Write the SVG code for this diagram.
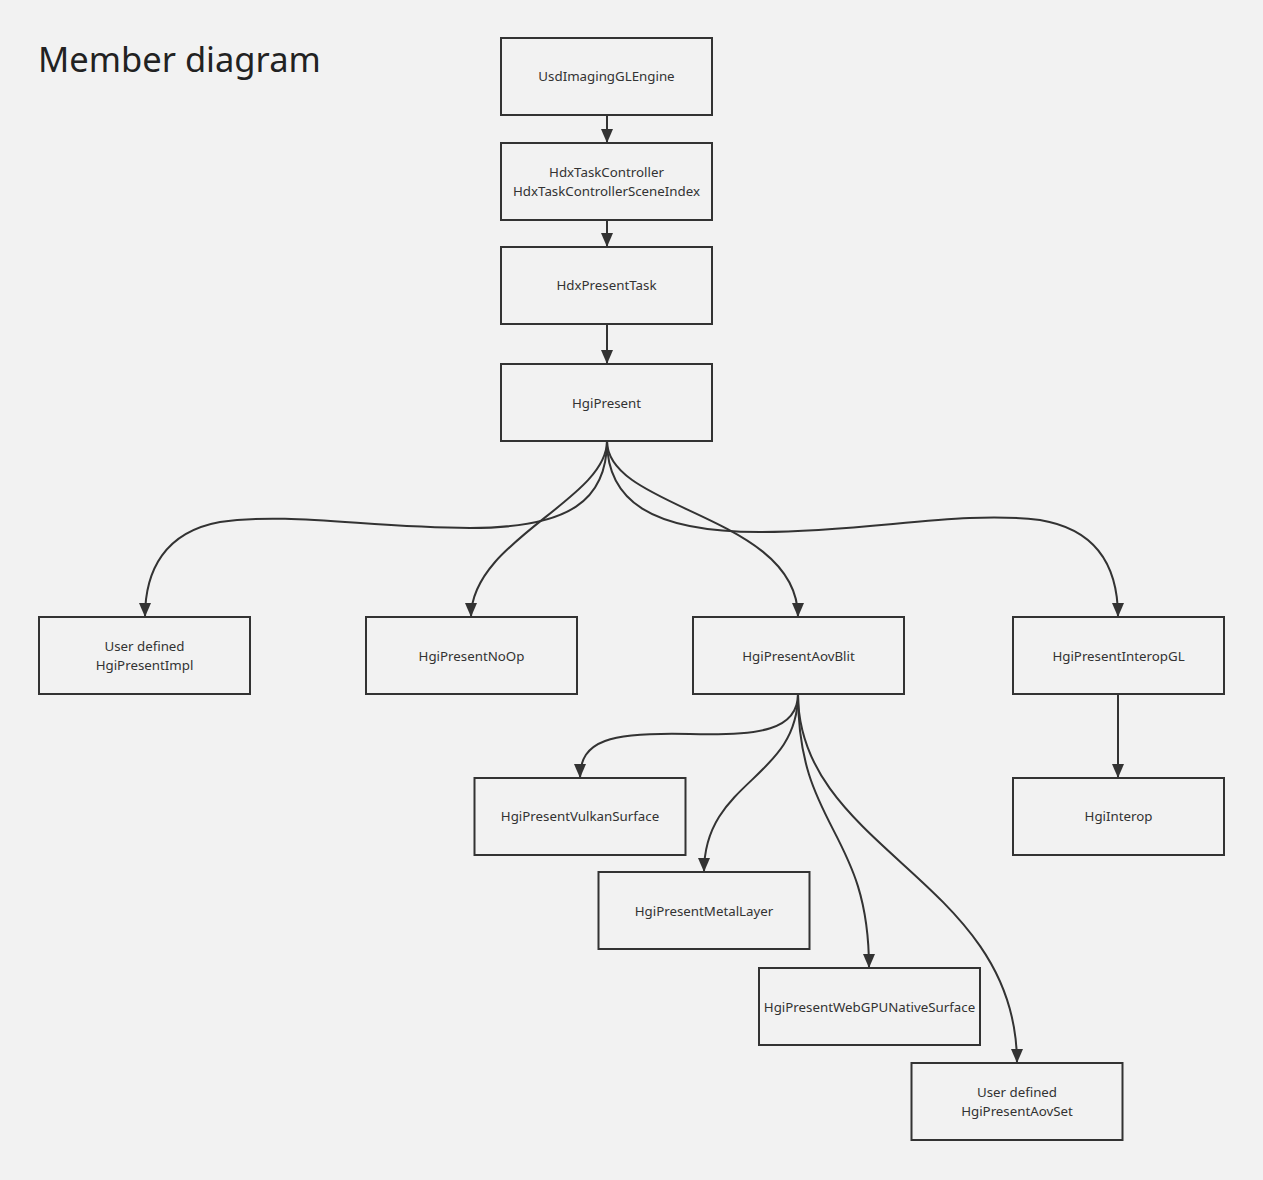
<svg xmlns="http://www.w3.org/2000/svg" width="1263" height="1180" viewBox="0 0 1263 1180">
<style>
.node rect{fill:#f2f2f2;stroke:#333;stroke-width:2}
.node text{font-family:"Noto Sans","DejaVu Sans",sans-serif;font-size:13.3px;fill:#333;text-anchor:middle}
.edge{fill:none;stroke:#333;stroke-width:2}
.title{font-family:"Noto Sans","DejaVu Sans",sans-serif;font-size:34.5px;fill:#222}
</style>
<defs>
<marker id="arr" markerUnits="userSpaceOnUse" markerWidth="14" markerHeight="12" viewBox="0 0 14 12" refX="14" refY="6" orient="auto">
<path d="M0,0 L14,6 L0,12 z" fill="#333"/>
</marker>
</defs>
<rect x="0" y="0" width="1263" height="1180" fill="#f2f2f2"/>
<text class="title" x="38" y="72">Member diagram</text>
<g id="connectors">
<path class="edge" marker-end="url(#arr)" d="M607,115 L607,143"/>
<path class="edge" marker-end="url(#arr)" d="M607,220 L607,247"/>
<path class="edge" marker-end="url(#arr)" d="M607,324 L607,364"/>
<path class="edge" marker-end="url(#arr)" d="M607,441 C607,500 570,528 470,528 C370,528 290,512 220,522 C165,532 145,570 145,617"/>
<path class="edge" marker-end="url(#arr)" d="M607,441 C607,500 471,540 471,617"/>
<path class="edge" marker-end="url(#arr)" d="M607,441 C607,510 798,515 798,617"/>
<path class="edge" marker-end="url(#arr)" d="M607,441 C607,500 650,532 760,532 C870,532 960,510 1040,520 C1100,530 1118,570 1118,617"/>
<path class="edge" marker-end="url(#arr)" d="M798,694 C798,730 760,736 690,734 C610,732 580,740 580,778"/>
<path class="edge" marker-end="url(#arr)" d="M798,694 C798,780 704,780 704,872"/>
<path class="edge" marker-end="url(#arr)" d="M798,694 C798,830 869,830 869,968"/>
<path class="edge" marker-end="url(#arr)" d="M798,694 C798,850 1017,880 1017,1063"/>
<path class="edge" marker-end="url(#arr)" d="M1118,694 L1118,778"/>
</g>
<g id="UsdImagingGLEngine" class="node"><rect x="501" y="38" width="211" height="77"/><text x="606.5" y="81">UsdImagingGLEngine</text></g>
<g id="HdxTaskController" class="node"><rect x="501" y="143" width="211" height="77"/><text x="606.5" y="177">HdxTaskController</text><text x="606.5" y="196">HdxTaskControllerSceneIndex</text></g>
<g id="HdxPresentTask" class="node"><rect x="501" y="247" width="211" height="77"/><text x="606.5" y="290">HdxPresentTask</text></g>
<g id="HgiPresent" class="node"><rect x="501" y="364" width="211" height="77"/><text x="606.5" y="408">HgiPresent</text></g>
<g id="HgiPresentImpl" class="node"><rect x="39" y="617" width="211" height="77"/><text x="144.5" y="651">User defined</text><text x="144.5" y="670">HgiPresentImpl</text></g>
<g id="HgiPresentNoOp" class="node"><rect x="366" y="617" width="211" height="77"/><text x="471.5" y="661">HgiPresentNoOp</text></g>
<g id="HgiPresentAovBlit" class="node"><rect x="693" y="617" width="211" height="77"/><text x="798.5" y="661">HgiPresentAovBlit</text></g>
<g id="HgiPresentInteropGL" class="node"><rect x="1013" y="617" width="211" height="77"/><text x="1118.5" y="661">HgiPresentInteropGL</text></g>
<g id="HgiPresentVulkanSurface" class="node"><rect x="474.5" y="778" width="211" height="77"/><text x="580" y="821">HgiPresentVulkanSurface</text></g>
<g id="HgiInterop" class="node"><rect x="1013" y="778" width="211" height="77"/><text x="1118.5" y="821">HgiInterop</text></g>
<g id="HgiPresentMetalLayer" class="node"><rect x="598.5" y="872" width="211" height="77"/><text x="704" y="916">HgiPresentMetalLayer</text></g>
<g id="HgiPresentWebGPUNativeSurface" class="node"><rect x="759" y="968" width="221" height="77"/><text x="869.5" y="1012">HgiPresentWebGPUNativeSurface</text></g>
<g id="HgiPresentAovSet" class="node"><rect x="911.5" y="1063" width="211" height="77"/><text x="1017" y="1097">User defined</text><text x="1017" y="1116">HgiPresentAovSet</text></g>
</svg>
